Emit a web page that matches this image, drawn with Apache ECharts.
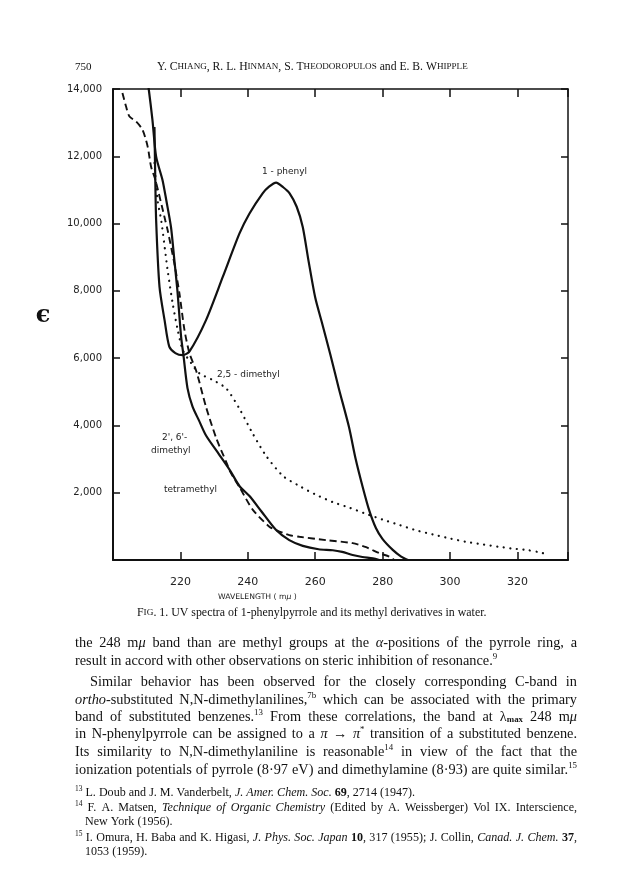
<!DOCTYPE html>
<html><head><meta charset="utf-8">
<script src="https://cdn.jsdelivr.net/npm/echarts@6/dist/echarts.min.js"></script>
<style>html,body{margin:0;padding:0;background:#fff}#c{width:624px;height:892px}</style>
</head><body><div id="c"></div>
<script>
// ---- data (wavelength in mμ, ε) ----
const xTickLabels = [220, 240, 260, 280, 300, 320];
const yTickLabels = [2000, 4000, 6000, 8000, 10000, 12000, 14000];

const phenylWl  = [212.3, 212.5, 212.8, 213.8, 215.3, 216.7, 218.5, 220.7, 222.7, 227.6, 232.6, 237.5, 240.5, 244.4, 246.3, 248.4, 250.5, 252.4, 254.5, 256.3, 258.0, 260.0, 262.0, 264.5, 267.0, 270.0, 272.0, 274.0, 276.0, 278.0, 280.0, 283.0, 285.5, 287.5];
const phenylEps = [12870, 11600, 10100, 8120, 7130, 6340, 6150, 6090, 6200, 7130, 8420, 9700, 10300, 10900, 11100, 11220, 11080, 10900, 10500, 9900, 8900, 7800, 7050, 6100, 5100, 3960, 3000, 2200, 1480, 950, 620, 300, 100, 0];

const tetraWl  = [210.0, 210.6, 211.7, 212.8, 214.7, 215.8, 217.2, 218.2, 219.1, 220.2, 220.9, 222.1, 223.6, 225.5, 227.6, 231.6, 234.8, 237.5, 240.5, 244.0, 248.4, 252.3, 256.3, 261.0, 265.2, 268.0, 271.1, 274.0, 277.1, 279.0];
const tetraEps = [14400, 14000, 13080, 11990, 11290, 10700, 9900, 8920, 8020, 6640, 6090, 5110, 4560, 4150, 3700, 3120, 2650, 2200, 1900, 1450, 890, 590, 420, 320, 290, 240, 150, 90, 50, 0];

const dimeWl  = [202.8, 203.9, 204.9, 206.9, 208.8, 210.3, 211.3, 212.6, 215.5, 216.2, 218.2, 219.7, 221.2, 222.7, 224.7, 227.6, 230.6, 233.6, 234.8, 237.5, 241.5, 246.4, 248.4, 252.3, 255.3, 263.2, 271.1, 275.1, 279.1, 282.0, 283.5];
const dimeEps = [13880, 13470, 13180, 13030, 12780, 12280, 11690, 11290, 10100, 9810, 8820, 7930, 6840, 6140, 5620, 4550, 3630, 2910, 2620, 2170, 1490, 990, 890, 740, 690, 590, 500, 380, 200, 100, 0];

const dime25Wl  = [212.3, 213.2, 214.3, 216.2, 217.7, 219.2, 220.7, 223.2, 225.6, 229.6, 233.6, 237.5, 241.5, 245.4, 250.4, 255.3, 260.0, 265.2, 270.0, 275.1, 280.0, 285.0, 290.0, 294.9, 300.0, 304.8, 310.0, 314.7, 318.5, 322.6, 326.0, 328.5];
const dime25Eps = [11800, 10700, 10100, 8620, 7630, 6840, 6240, 5850, 5550, 5350, 5100, 4500, 3750, 3100, 2500, 2200, 1950, 1720, 1560, 1370, 1200, 1040, 880, 760, 640, 540, 460, 390, 340, 300, 240, 180];

const pair = (xs, ys) => xs.map((x, i) => [x, ys[i]]);

// ---- text layout helpers ----
const SERIF = "'Liberation Serif', 'DejaVu Serif', serif";
const SANS = "'DejaVu Sans', sans-serif";
const ctx = document.createElement('canvas').getContext('2d');
function fontFor(st, fs, fam) {
  let size = fs, style = 'normal', weight = 'normal', dy = 0;
  if (st === 'i') style = 'italic';
  if (st === 'b') weight = 'bold';
  if (st === 'sup') { size = fs * 0.62; dy = -fs * 0.32; }
  if (st === 'sub') { size = fs * 0.62; dy = fs * 0.22; weight = 'bold'; }
  if (st === 'sc') size = fs * 0.78;
  return { size, style, weight, dy, fam, css: style + ' ' + weight + ' ' + size + 'px ' + fam };
}
function parseSegs(str) {
  const segs = []; const re = /\{(\w+)\|([^}]*)\}/g; let last = 0, m;
  while ((m = re.exec(str))) {
    if (m.index > last) segs.push({ s: 'n', t: str.slice(last, m.index) });
    segs.push({ s: m[1], t: m[2] }); last = re.lastIndex;
  }
  if (last < str.length) segs.push({ s: 'n', t: str.slice(last) });
  return segs;
}
function toWords(segs) {
  const words = [[]];
  segs.forEach(sg => {
    sg.t.split(' ').forEach((p, k) => {
      if (k > 0) words.push([]);
      if (p.length) words[words.length - 1].push({ s: sg.s, t: p });
    });
  });
  return words.filter(w => w.length);
}
function measureWord(w, fs, fam) {
  return w.reduce((a, sg) => { ctx.font = fontFor(sg.s, fs, fam).css; return a + ctx.measureText(sg.t).width; }, 0);
}
function spaceW(fs, fam) { ctx.font = 'normal normal ' + fs + 'px ' + fam; return ctx.measureText(' ').width; }
function naturalWidth(str, fs, fam) {
  const words = toWords(parseSegs(str));
  return words.reduce((a, w) => a + measureWord(w, fs, fam), 0) + spaceW(fs, fam) * (words.length - 1);
}
function fitSize(str, fam, target) { return 10 * target / naturalWidth(str, 10, fam); }
const elems = [];
function layoutLine(str, x, y, fs, fam, justifyWidth, color) {
  const words = toWords(parseSegs(str));
  const ws = words.map(w => measureWord(w, fs, fam));
  let gap = spaceW(fs, fam);
  if (justifyWidth && words.length > 1) gap = (justifyWidth - ws.reduce((a, b) => a + b, 0)) / (words.length - 1);
  let cx = x;
  words.forEach((w, i) => {
    let px = cx;
    w.forEach(sg => {
      const f = fontFor(sg.s, fs, fam);
      elems.push({ type: 'text', x: px, y: y + f.dy, silent: true,
        style: { text: sg.t, fontSize: f.size, fontFamily: fam, fontStyle: f.style, fontWeight: f.weight,
          fill: color || '#111', align: 'left', verticalAlign: 'middle', textAlign: 'left', textVerticalAlign: 'middle' } });
      ctx.font = f.css; px += ctx.measureText(sg.t).width;
    });
    cx += ws[i] + gap;
  });
}

// header
layoutLine('750', 75, 67, 11, SERIF, 0);
const title = 'Y. C{sc|HIANG}, R. L. H{sc|INMAN}, S. T{sc|HEODOROPULOS} and E. B. W{sc|HIPPLE}';
layoutLine(title, 157, 67, fitSize(title, SERIF, 311), SERIF, 0);

// epsilon
elems.push({ type: 'text', x: 43, y: 316, silent: true, style: { text: 'ϵ', fontSize: 24, fontWeight: 'bold', fontFamily: "'DejaVu Serif', serif", fill: '#111', align: 'center', verticalAlign: 'middle', textAlign: 'center', textVerticalAlign: 'middle' } });

// curve labels
const lblFs = fitSize('tetramethyl', SANS, 53);
const lbl = (s, x, y) => layoutLine(s, x, y, lblFs, SANS, 0, '#222');
lbl('1 - phenyl', 262, 172);
lbl('2,5 - dimethyl', 217, 375);
lbl("2', 6'-", 162, 438);
lbl('dimethyl', 151, 451);
lbl('tetramethyl', 164, 490);

// axis title and caption
const axT = 'WAVELENGTH ( m{i|μ} )';
layoutLine(axT, 218, 597, fitSize(axT, SANS, 79), SANS, 0, '#222');
const cap = 'F{sc|IG}. 1. UV spectra of 1-phenylpyrrole and its methyl derivatives in water.';
layoutLine(cap, 137, 613, fitSize(cap, SERIF, 350), SERIF, 0);

// body text
const body = [
  ['the 248 m{i|μ} band than are methyl groups at the {i|α}-positions of the pyrrole ring, a', 75, 643, 502],
  ['result in accord with other observations on steric inhibition of resonance.{sup|9}', 75, 661, 0],
  ['Similar behavior has been observed for the closely corresponding C-band in', 90, 682, 487],
  ['{i|ortho}-substituted N,N-dimethylanilines,{sup|7b} which can be associated with the primary', 75, 700, 502],
  ['band of substituted benzenes.{sup|13}  From these correlations, the band at λ{sub|max} 248 m{i|μ}', 75, 717, 502],
  ['in N-phenylpyrrole can be assigned to a {i|π} → {i|π}{sup|*} transition of a substituted benzene.', 75, 734, 502],
  ['Its similarity to N,N-dimethylaniline is reasonable{sup|14} in view of the fact that the', 75, 752, 502],
  ['ionization potentials of pyrrole (8·97 eV) and dimethylamine (8·93) are quite similar.{sup|15}', 75, 770, 502]
];
const bodyFs = Math.min(...body.filter(b => b[3]).map(b => fitSize(b[0], SERIF, b[3] - 4)));
body.forEach(b => layoutLine(b[0], b[1], b[2], bodyFs, SERIF, b[3]));

const foot = [
  ['{sup|13} L. Doub and J. M. Vanderbelt, {i|J. Amer. Chem. Soc.} {b|69}, 2714 (1947).', 75, 793, 0],
  ['{sup|14} F. A. Matsen, {i|Technique of Organic Chemistry} (Edited by A. Weissberger) Vol IX. Interscience,', 75, 808, 502],
  ['New York (1956).', 85, 822, 0],
  ['{sup|15} I. Omura, H. Baba and K. Higasi, {i|J. Phys. Soc. Japan} {b|10}, 317 (1955);  J. Collin, {i|Canad. J. Chem.} {b|37},', 75, 838, 502],
  ['1053 (1959).', 85, 852, 0]
];
const footFs = Math.min(...foot.filter(b => b[3]).map(b => fitSize(b[0], SERIF, b[3] - 6)));
foot.forEach(b => layoutLine(b[0], b[1], b[2], footFs, SERIF, b[3]));

// ---- chart ----
const chart = echarts.init(document.getElementById('c'), null, { renderer: 'canvas' });
const ink = '#111';
const lineBase = { type: 'line', showSymbol: false, symbol: 'none', clip: true, smooth: 0.25, silent: true, animation: false };
chart.setOption({
  animation: false,
  backgroundColor: '#fff',
  grid: { left: 113, top: 89, width: 455, height: 471, show: false },
  xAxis: [
    { type: 'value', min: 200, max: 335, interval: 20, position: 'bottom',
      axisLine: { onZero: false, lineStyle: { color: ink, width: 2 } },
      axisTick: { inside: true, length: 8, lineStyle: { color: ink, width: 1.5 } },
      axisLabel: { margin: 17, fontSize: 11, color: '#222', fontFamily: 'DejaVu Sans', showMinLabel: true, showMaxLabel: true,
        formatter: v => xTickLabels.includes(v) ? String(v) : '' },
      splitLine: { show: false } },
    { type: 'value', min: 200, max: 335, interval: 20, position: 'top',
      axisLine: { onZero: false, lineStyle: { color: ink, width: 1.5 } },
      axisTick: { inside: true, length: 8, lineStyle: { color: ink, width: 1.5 } },
      axisLabel: { show: false }, splitLine: { show: false } }
  ],
  yAxis: [
    { type: 'value', min: 0, max: 14000, interval: 2000, position: 'left',
      axisLine: { show: true, onZero: false, lineStyle: { color: ink, width: 2 } },
      axisTick: { show: true, inside: true, length: 7, lineStyle: { color: ink, width: 1.5 } },
      axisLabel: { margin: 11, fontSize: 10, color: '#222', fontFamily: 'DejaVu Sans', showMinLabel: true, showMaxLabel: true,
        formatter: v => yTickLabels.includes(v) ? v.toLocaleString('en-US') : '' },
      splitLine: { show: false } },
    { type: 'value', min: 0, max: 14000, interval: 2000, position: 'right',
      axisLine: { show: true, onZero: false, lineStyle: { color: ink, width: 1.5 } },
      axisTick: { show: true, inside: true, length: 7, lineStyle: { color: ink, width: 1.5 } },
      axisLabel: { show: false }, splitLine: { show: false } }
  ],
  series: [
    Object.assign({}, lineBase, { name: '1-phenyl', data: pair(phenylWl, phenylEps), lineStyle: { color: ink, width: 2.2 } }),
    Object.assign({}, lineBase, { name: 'tetramethyl', data: pair(tetraWl, tetraEps), lineStyle: { color: ink, width: 2.2 } }),
    Object.assign({}, lineBase, { name: "2',6'-dimethyl", data: pair(dimeWl, dimeEps), lineStyle: { color: ink, width: 1.9, type: [7, 4] } }),
    Object.assign({}, lineBase, { name: '2,5-dimethyl', data: pair(dime25Wl, dime25Eps), lineStyle: { color: ink, width: 2.2, type: [0.1, 6.5], cap: 'round' } })
  ],
  graphic: { elements: elems }
});
</script>
</body></html>
